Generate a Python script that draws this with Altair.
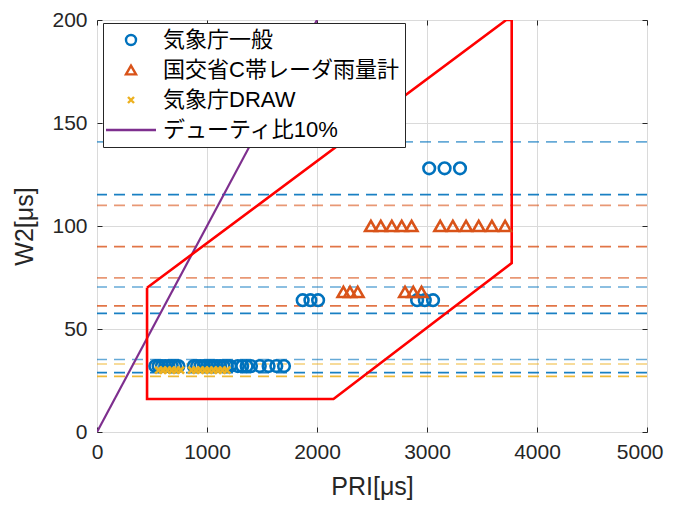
import altair as alt
import pandas as pd

# ---------------- data ----------------
SERIES = ["気象庁一般", "国交省C帯レーダ雨量計", "気象庁DRAW", "デューティ比10%"]
COLORS = ["#0072BD", "#D95319", "#EDB120", "#7E2F8E"]
SHAPES = ["circle", "triangle-up",
          "M-0.6,-0.6L0.6,0.6M-0.6,0.6L0.6,-0.6",
          "M-5,0L5,0"]

# 気象庁一般 (circles)
jma_pri = [530, 560, 590, 620, 650, 680, 710, 740,
           880, 910, 940, 970, 1000, 1030, 1060, 1090, 1120, 1150, 1180, 1210,
           1280, 1320, 1360, 1400,
           1480, 1560, 1630, 1700,
           1870, 1940, 2010, 2910, 2980, 3055,
           3020, 3160, 3300]
jma_w2 = [32, 32, 32, 32, 32, 32, 32, 32,
          32, 32, 32, 32, 32, 32, 32, 32, 32, 32, 32, 32,
          32, 32, 32, 32,
          32, 32, 32, 32,
          64, 64, 64, 64, 64, 64,
          128, 128, 128]

# 国交省C帯レーダ雨量計 (triangles)
mlit_pri = [2240, 2300, 2370, 2800, 2875, 2950,
            2490, 2580, 2680, 2770, 2860,
            3120, 3235, 3355, 3470, 3590, 3710]
mlit_w2 = [68, 68, 68, 68, 68, 68,
           100, 100, 100, 100, 100,
           100, 100, 100, 100, 100, 100]

# 気象庁DRAW (x markers)
draw_pri = [560, 600, 640, 680, 720, 760,
            860, 900, 940, 980, 1020, 1060, 1100, 1140, 1180]
draw_w2 = [30, 30, 30, 30, 30, 30,
           30, 30, 30, 30, 30, 30, 30, 30, 30]

# duty ratio 10% line
duty_pri = [0, 2000]
duty_w2 = [0, 200]

# red boundary polygon
poly_pri = [455, 455, 2150, 3770, 3770, 3720, 455]
poly_w2 = [70, 16, 16, 82, 200, 200, 70]

# dashed reference lines (lower / upper bounds per group)
blue_lower = [28.8, 57.6, 115.2]
blue_upper = [35.2, 70.4, 140.8]
orange_lower = [61.2, 90.0]
orange_upper = [74.8, 110.0]
yellow_lower = [27.0]
yellow_upper = [33.0]

x_ticks = [0, 1000, 2000, 3000, 4000, 5000]
y_ticks = [0, 50, 100, 150, 200]

# ---------------- tables ----------------
pts = pd.concat([
    pd.DataFrame({"pri": jma_pri, "w2": jma_w2, "series": SERIES[0]}),
    pd.DataFrame({"pri": mlit_pri, "w2": mlit_w2, "series": SERIES[1]}),
    pd.DataFrame({"pri": draw_pri, "w2": draw_w2, "series": SERIES[2]}),
], ignore_index=True)

duty = pd.DataFrame({"pri": duty_pri, "w2": duty_w2})
poly = pd.DataFrame({"pri": poly_pri, "w2": poly_w2, "k": list(range(len(poly_pri)))})

rule_rows = []
for vals, col, op in [(blue_lower, COLORS[0], 0.9), (blue_upper, COLORS[0], 0.6),
                      (orange_lower, COLORS[1], 0.8), (orange_upper, COLORS[1], 0.6),
                      (yellow_lower, COLORS[2], 0.9), (yellow_upper, COLORS[2], 0.6)]:
    for v in vals:
        rule_rows.append({"w2": v, "col": col, "op": op})
rules_df = pd.DataFrame(rule_rows)

# ---------------- styling ----------------
FONT = "Liberation Sans, Noto Sans CJK JP"
TXT = "#262626"
AXS = dict(labelFont=FONT, labelFontSize=21, labelColor=TXT,
           titleFont=FONT, titleFontSize=25, titleColor=TXT,
           titleFontWeight="normal", tickColor=TXT, tickWidth=1,
           labelFlush=False)

xs = alt.Scale(domain=[0, 5000], nice=False)
ys = alt.Scale(domain=[0, 200], nice=False)

# grid host (invisible)
grid_layer = alt.Chart(pts).mark_point(opacity=0).encode(
    x=alt.X("pri:Q", scale=xs, title=None,
            axis=alt.Axis(orient="bottom", values=x_ticks, grid=True, gridColor="#dadada",
                          gridWidth=1, ticks=False, labels=False, domain=False)),
    y=alt.Y("w2:Q", scale=ys, title=None,
            axis=alt.Axis(orient="left", values=y_ticks, grid=True, gridColor="#dadada",
                          gridWidth=1, ticks=False, labels=False, domain=False)),
)

rules = alt.Chart(rules_df).mark_rule(strokeDash=[11, 7], strokeWidth=1.7).encode(
    y=alt.Y("w2:Q", scale=ys, axis=None),
    color=alt.Color("col:N", scale=None),
    opacity=alt.Opacity("op:Q", scale=None),
)

duty_line = alt.Chart(duty).mark_line(color=COLORS[3], strokeWidth=2.2, clip=True).encode(
    x=alt.X("pri:Q", scale=xs, axis=None),
    y=alt.Y("w2:Q", scale=ys, axis=None),
)

poly_line = alt.Chart(poly).mark_line(color="#FF0000", strokeWidth=2.6, clip=True).encode(
    x=alt.X("pri:Q", scale=xs, axis=None),
    y=alt.Y("w2:Q", scale=ys, axis=None),
    order="k:Q",
)

leg = alt.Legend(title=None, orient="none", legendX=6, legendY=3, padding=6,
                 symbolOffset=11, labelOffset=21, rowPadding=8,
                 labelFont=FONT, labelFontSize=22, labelColor="#000000", labelLimit=500,
                 strokeColor=TXT, fillColor="#ffffff", symbolStrokeWidth=2.4,
                 symbolSize=100)

x_label_align = {"condition": {"test": "datum.value == 5000", "value": "right"}, "value": "center"}
x_label_offset = {"condition": {"test": "datum.value == 5000", "value": 16}, "value": 0}

points = alt.Chart(pts).mark_point(filled=False, strokeWidth=2.6, size=135, opacity=1).encode(
    x=alt.X("pri:Q", scale=xs, title="PRI[μs]",
            axis=alt.Axis(orient="bottom", values=x_ticks, offset=-5, tickSize=5,
                          domain=False, grid=False, labelPadding=9, titlePadding=12,
                          labelAlign=x_label_align, labelOffset=x_label_offset,
                          format="d", **AXS)),
    y=alt.Y("w2:Q", scale=ys, title="W2[μs]",
            axis=alt.Axis(orient="left", values=y_ticks, offset=-5, tickSize=5,
                          domain=False, grid=False, labelPadding=10, titlePadding=14,
                          format="d", **AXS)),
    color=alt.Color("series:N", scale=alt.Scale(domain=SERIES, range=COLORS), legend=leg),
    shape=alt.Shape("series:N", scale=alt.Scale(domain=SERIES, range=SHAPES), legend=leg),
)

# inward ticks on top and right
tick_layer = alt.Chart(pts).mark_point(opacity=0).encode(
    x=alt.X("pri:Q", scale=xs, title=None,
            axis=alt.Axis(orient="top", values=x_ticks, offset=-5, tickSize=5,
                          labels=False, domain=False, grid=False, tickColor=TXT)),
    y=alt.Y("w2:Q", scale=ys, title=None,
            axis=alt.Axis(orient="right", values=y_ticks, offset=-5, tickSize=5,
                          labels=False, domain=False, grid=False, tickColor=TXT)),
)

chart = alt.layer(grid_layer, rules, duty_line, poly_line, points, tick_layer).resolve_axis(
    x="independent", y="independent"
).properties(
    width=550, height=412,
    padding={"left": 89, "top": 12, "right": 18, "bottom": 68},
    autosize=alt.AutoSizeParams(type="none"),
).configure_view(stroke=TXT, strokeWidth=1.2).configure(background="#ffffff")

chart.save("out.html", embed_options={"renderer": "svg", "actions": False})
